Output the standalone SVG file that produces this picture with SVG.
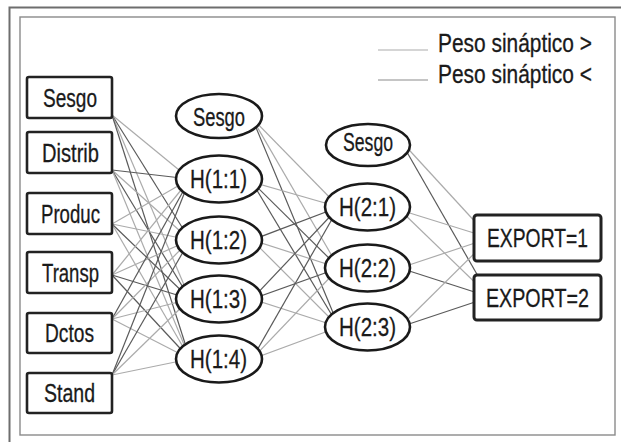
<svg xmlns="http://www.w3.org/2000/svg" width="621" height="442" viewBox="0 0 621 442">
<style>
.frame-out{fill:none;stroke:#6e6e6e;stroke-width:2}
.frame-in{fill:none;stroke:#8a8a8a;stroke-width:1.4}
.box{fill:#fff;stroke:#222;stroke-width:2.6}
.obox{fill:#fff;stroke:#222;stroke-width:3}
.ell{fill:#fff;stroke:#1a1a1a;stroke-width:2.6}
.lt{stroke:#ababab;stroke-width:1.2;fill:none}
.dk{stroke:#5a5a5a;stroke-width:1.2;fill:none}
text{font-family:"Liberation Sans","Arimo",Arial,sans-serif;font-size:26px;fill:#1a1a1a;stroke:#1a1a1a;stroke-width:0.3}
</style>
<rect width="621" height="442" fill="#fff"/>
<rect class="frame-out" x="9.5" y="7.5" width="660" height="480"/>
<rect class="frame-in" x="20" y="17" width="595" height="418"/>
<g id="legend">
<line x1="378" y1="50" x2="428" y2="50" class="lt"/>
<line x1="378" y1="80" x2="428" y2="80" stroke="#8c8c8c" stroke-width="1.2"/>
<text transform="translate(438,52) scale(0.78,1)" textLength="197.4" lengthAdjust="spacingAndGlyphs">Peso sináptico &gt;</text>
<text transform="translate(438,83) scale(0.78,1)" textLength="197.4" lengthAdjust="spacingAndGlyphs">Peso sináptico &lt;</text>
</g>
<g id="connectors">
<line class="lt" x1="112" y1="115" x2="190" y2="179"/>
<line class="dk" x1="112" y1="115" x2="190" y2="240"/>
<line class="lt" x1="112" y1="115" x2="190" y2="299"/>
<line class="dk" x1="112" y1="115" x2="190" y2="359"/>
<line class="dk" x1="112" y1="170" x2="190" y2="179"/>
<line class="lt" x1="112" y1="170" x2="190" y2="240"/>
<line class="dk" x1="112" y1="170" x2="190" y2="299"/>
<line class="lt" x1="112" y1="170" x2="190" y2="359"/>
<line class="lt" x1="112" y1="224" x2="190" y2="179"/>
<line class="lt" x1="112" y1="224" x2="190" y2="240"/>
<line class="dk" x1="112" y1="224" x2="190" y2="299"/>
<line class="lt" x1="112" y1="224" x2="190" y2="359"/>
<line class="lt" x1="112" y1="275" x2="190" y2="179"/>
<line class="lt" x1="112" y1="275" x2="190" y2="240"/>
<line class="dk" x1="112" y1="275" x2="190" y2="299"/>
<line class="dk" x1="112" y1="275" x2="190" y2="359"/>
<line class="dk" x1="112" y1="319" x2="190" y2="179"/>
<line class="lt" x1="112" y1="319" x2="190" y2="240"/>
<line class="lt" x1="112" y1="319" x2="190" y2="299"/>
<line class="lt" x1="112" y1="319" x2="190" y2="359"/>
<line class="dk" x1="112" y1="375" x2="190" y2="179"/>
<line class="dk" x1="112" y1="375" x2="190" y2="240"/>
<line class="lt" x1="112" y1="375" x2="190" y2="299"/>
<line class="lt" x1="112" y1="375" x2="190" y2="359"/>
<line class="lt" x1="252" y1="118" x2="339" y2="207"/>
<line class="lt" x1="252" y1="118" x2="339" y2="268"/>
<line class="dk" x1="252" y1="118" x2="339" y2="327"/>
<line class="lt" x1="252" y1="182" x2="339" y2="207"/>
<line class="dk" x1="252" y1="182" x2="339" y2="268"/>
<line class="dk" x1="252" y1="182" x2="339" y2="327"/>
<line class="dk" x1="252" y1="240" x2="339" y2="207"/>
<line class="lt" x1="252" y1="240" x2="339" y2="268"/>
<line class="lt" x1="252" y1="240" x2="339" y2="327"/>
<line class="dk" x1="252" y1="299" x2="339" y2="207"/>
<line class="dk" x1="252" y1="299" x2="339" y2="268"/>
<line class="lt" x1="252" y1="299" x2="339" y2="327"/>
<line class="dk" x1="252" y1="359" x2="339" y2="207"/>
<line class="lt" x1="252" y1="359" x2="339" y2="268"/>
<line class="lt" x1="252" y1="359" x2="339" y2="327"/>
<line class="lt" x1="400" y1="140" x2="490" y2="238"/>
<line class="dk" x1="400" y1="140" x2="490" y2="297"/>
<line class="lt" x1="400" y1="210" x2="490" y2="238"/>
<line class="lt" x1="400" y1="210" x2="490" y2="297"/>
<line class="lt" x1="400" y1="268" x2="490" y2="238"/>
<line class="dk" x1="400" y1="268" x2="490" y2="297"/>
<line class="lt" x1="400" y1="327" x2="490" y2="238"/>
<line class="dk" x1="400" y1="327" x2="490" y2="297"/>
</g>
<g id="in-sesgo"><rect class="box" x="27" y="77" width="85" height="41" rx="2"/><text transform="translate(43,107) scale(0.78,1)" textLength="69.2" lengthAdjust="spacingAndGlyphs">Sesgo</text></g>
<g id="in-distrib"><rect class="box" x="27" y="132" width="85" height="41" rx="2"/><text transform="translate(42,162) scale(0.78,1)" textLength="73.1" lengthAdjust="spacingAndGlyphs">Distrib</text></g>
<g id="in-produc"><rect class="box" x="27" y="193" width="85" height="41" rx="2"/><text transform="translate(41,223) scale(0.78,1)" textLength="75.6" lengthAdjust="spacingAndGlyphs">Produc</text></g>
<g id="in-transp"><rect class="box" x="27" y="252" width="85" height="41" rx="2"/><text transform="translate(42,282) scale(0.78,1)" textLength="73.1" lengthAdjust="spacingAndGlyphs">Transp</text></g>
<g id="in-dctos"><rect class="box" x="27" y="313" width="85" height="40" rx="2"/><text transform="translate(45,342) scale(0.78,1)" textLength="62.8" lengthAdjust="spacingAndGlyphs">Dctos</text></g>
<g id="in-stand"><rect class="box" x="27" y="373" width="85" height="40" rx="2"/><text transform="translate(44,402) scale(0.78,1)" textLength="65.4" lengthAdjust="spacingAndGlyphs">Stand</text></g>
<g id="h1-sesgo"><ellipse class="ell" cx="219" cy="116" rx="43" ry="22"/><text transform="translate(193,126) scale(0.78,1)" textLength="66.7" lengthAdjust="spacingAndGlyphs">Sesgo</text></g>
<g id="h1-1"><ellipse class="ell" cx="219" cy="179" rx="43" ry="23.5"/><text transform="translate(190,188) scale(0.78,1)" textLength="73.1" lengthAdjust="spacingAndGlyphs">H(1:1)</text></g>
<g id="h1-2"><ellipse class="ell" cx="219" cy="240" rx="43" ry="23.5"/><text transform="translate(190,249) scale(0.78,1)" textLength="73.1" lengthAdjust="spacingAndGlyphs">H(1:2)</text></g>
<g id="h1-3"><ellipse class="ell" cx="219" cy="299" rx="43" ry="23.5"/><text transform="translate(190,308) scale(0.78,1)" textLength="73.1" lengthAdjust="spacingAndGlyphs">H(1:3)</text></g>
<g id="h1-4"><ellipse class="ell" cx="219" cy="359" rx="43" ry="23.5"/><text transform="translate(190,368) scale(0.78,1)" textLength="73.1" lengthAdjust="spacingAndGlyphs">H(1:4)</text></g>
<g id="h2-sesgo"><ellipse class="ell" cx="368" cy="145" rx="42" ry="21"/><text transform="translate(343,151) scale(0.78,1)" textLength="64.1" lengthAdjust="spacingAndGlyphs">Sesgo</text></g>
<g id="h2-1"><ellipse class="ell" cx="367.5" cy="207" rx="42.5" ry="23.5"/><text transform="translate(339,216) scale(0.78,1)" textLength="73.1" lengthAdjust="spacingAndGlyphs">H(2:1)</text></g>
<g id="h2-2"><ellipse class="ell" cx="367.5" cy="268" rx="42.5" ry="23.5"/><text transform="translate(339,277) scale(0.78,1)" textLength="73.1" lengthAdjust="spacingAndGlyphs">H(2:2)</text></g>
<g id="h2-3"><ellipse class="ell" cx="367.5" cy="327" rx="42.5" ry="23.5"/><text transform="translate(339,336) scale(0.78,1)" textLength="73.1" lengthAdjust="spacingAndGlyphs">H(2:3)</text></g>
<g id="out-1"><rect class="obox" x="474" y="215" width="127" height="46" rx="3"/><text transform="translate(487,247) scale(0.78,1)" textLength="129.5" lengthAdjust="spacingAndGlyphs">EXPORT=1</text></g>
<g id="out-2"><rect class="obox" x="474" y="275" width="127" height="45" rx="3"/><text transform="translate(486,307) scale(0.78,1)" textLength="132" lengthAdjust="spacingAndGlyphs">EXPORT=2</text></g>
</svg>
